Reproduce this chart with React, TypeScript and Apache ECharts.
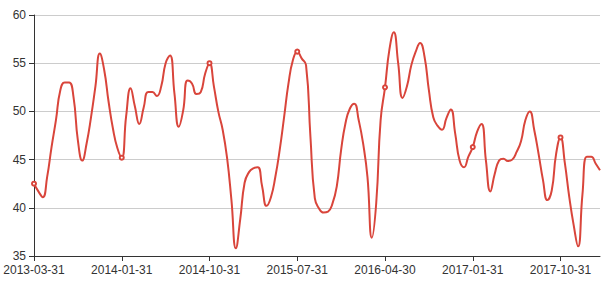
import React, { useEffect, useRef } from "react";
import * as echarts from "echarts";

// Axis label dates, one every 20 observations
const tickLabels: string[] = [
  "2013-03-31",
  "2014-01-31",
  "2014-10-31",
  "2015-07-31",
  "2016-04-30",
  "2017-01-31",
  "2017-10-31",
];
const labelStep = 20;

const values: number[] = [
  42.5, 41.7, 41.1, 43.2, 46.3, 49.1, 52.2, 53.0, 53.0, 51.5,
  47.0, 44.9, 46.7, 49.4, 52.6, 56.0, 54.3, 51.0, 48.2, 46.2,
  45.2, 49.5, 52.4, 50.5, 48.7, 50.4, 52.0, 52.0, 51.6, 52.6,
  55.0, 55.8, 51.9, 48.4, 50.1, 53.2, 52.9, 51.8, 52.0, 53.9,
  55.0, 52.6, 50.0, 48.1, 45.2, 40.8, 35.8, 38.8, 42.6, 43.7,
  44.1, 44.2, 42.2, 40.2, 41.1, 43.2, 46.0, 49.4, 52.9, 55.3,
  56.2, 55.5, 54.8, 47.4, 41.0, 39.9, 39.5, 39.6, 40.4, 42.2,
  46.0, 48.8, 50.3, 50.8, 49.1, 46.7, 43.2, 36.9, 40.5, 49.1,
  52.5, 56.4, 58.2, 55.0, 51.4, 52.6, 54.8, 56.2, 57.1, 55.7,
  52.2, 49.4, 48.5, 48.1, 49.3, 50.2, 47.7, 44.9, 44.2, 45.3,
  46.3, 47.9, 48.7, 44.9, 41.7, 43.5, 44.9, 45.1, 44.85, 45.0,
  45.8, 46.9, 49.1, 50.0, 48.1, 45.6, 42.9, 40.8, 41.8, 45.6,
  47.3, 44.6, 41.1, 38.2, 36.0, 41.4, 45.3, 45.3, 44.6, 43.9,
];

const yMin = 35;
const yMax = 60;
const yInterval = 5;

// Category names: labelled dates at every 20th index, dates in between spread by day
function buildCategories(count: number): string[] {
  const t = tickLabels.map((s) => Date.parse(s + "T00:00:00Z"));
  const lastGap = t[t.length - 1] - t[t.length - 2];
  const out: string[] = [];
  for (let k = 0; k < count; k++) {
    const seg = Math.floor(k / labelStep);
    const r = (k % labelStep) / labelStep;
    let ms: number;
    if (seg < t.length - 1) ms = t[seg] + (t[seg + 1] - t[seg]) * r;
    else ms = t[t.length - 1] + lastGap * ((k - (t.length - 1) * labelStep) / labelStep);
    if (k % labelStep === 0 && seg < tickLabels.length) out.push(tickLabels[seg]);
    else out.push(new Date(ms).toISOString().slice(0, 10));
  }
  return out;
}
const categories = buildCategories(values.length);

export default function App() {
  const ref = useRef<HTMLDivElement>(null);
  useEffect(() => {
    document.body.style.margin = "0";
    if (!ref.current) return;
    const chart = echarts.init(ref.current, undefined, { renderer: "svg" });
    const font = "Liberation Sans, Arial, sans-serif";
    chart.setOption({
      animation: false,
      grid: { left: 34, right: 6, top: 15, bottom: 31, containLabel: false },
      xAxis: {
        type: "category",
        boundaryGap: false,
        data: categories,
        axisLine: { lineStyle: { color: "#333" } },
        axisTick: { interval: labelStep - 1, length: 5, lineStyle: { color: "#333" } },
        axisLabel: {
          interval: labelStep - 1,
          color: "#333",
          fontSize: 12,
          fontFamily: font,
          margin: 8,
        },
        splitLine: { show: false },
      },
      yAxis: {
        type: "value",
        min: yMin,
        max: yMax,
        interval: yInterval,
        axisLine: { show: true, lineStyle: { color: "#333" } },
        axisTick: { show: true, length: 5, lineStyle: { color: "#333" } },
        axisLabel: { color: "#333", fontSize: 12, fontFamily: font, margin: 8 },
        splitLine: { lineStyle: { color: "#ccc" } },
      },
      series: [
        {
          type: "line",
          data: values,
          smooth: true,
          symbol: "emptyCircle",
          symbolSize: 4,
          showAllSymbol: "auto",
          itemStyle: { color: "#d9453b", borderWidth: 1 },
          lineStyle: { color: "#d9453b", width: 2 },
        },
      ],
    });
    return () => chart.dispose();
  }, []);
  return <div ref={ref} style={{ width: 606, height: 287 }} />;
}
